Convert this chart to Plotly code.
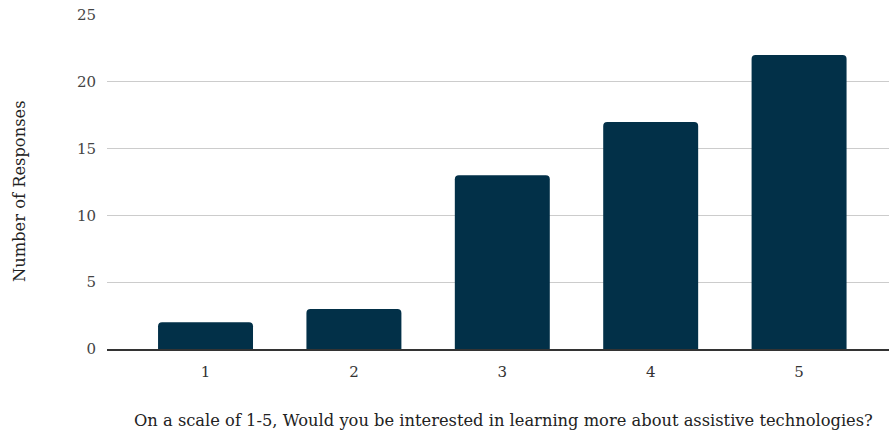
import plotly.graph_objects as go

categories = ["1", "2", "3", "4", "5"]
responses = [2, 3, 13, 17, 22]
y_ticks = [0, 5, 10, 15, 20, 25]

FONT = "Georgia, 'DejaVu Serif', 'Liberation Serif', serif"

fig = go.Figure(go.Bar(
    x=categories, y=responses,
    marker=dict(color="#023048", cornerradius=4, line=dict(width=0)),
    width=0.64,
))

fig.update_layout(
    width=889, height=433,
    margin=dict(l=107, r=0, t=15, b=84),
    paper_bgcolor="white", plot_bgcolor="white",
    font=dict(family=FONT, color="#333333", size=15),
    showlegend=False,
    xaxis=dict(
        type="category", range=[-0.664, 4.606],
        showgrid=False, showline=True, linecolor="#333333", linewidth=1.5,
        ticks="", ticklabelstandoff=8, tickfont=dict(size=15, color="#333333"),
    ),
    yaxis=dict(
        range=[0, 25], tickvals=y_ticks,
        showgrid=True, gridcolor="#cccccc", gridwidth=1,
        zeroline=False, showline=False, ticks="",
        ticklabelstandoff=10,
        tickfont=dict(size=15, color="#444444"),
    ),
    annotations=[
        dict(
            text="Number of Responses", textangle=-90,
            xref="paper", yref="paper", x=(20 - 107) / 782, y=(349 - 191) / 334,
            xanchor="center", yanchor="middle", showarrow=False,
            font=dict(size=16.3, color="#222222"),
        ),
        dict(
            text="On a scale of 1-5, Would you be interested in learning more about assistive technologies?",
            xref="paper", yref="paper", x=(503 - 107) / 782, y=(349 - 420) / 334,
            xanchor="center", yanchor="middle", showarrow=False,
            font=dict(size=16.3, color="#222222"),
        ),
    ],
)

fig.write_html("out.html")
